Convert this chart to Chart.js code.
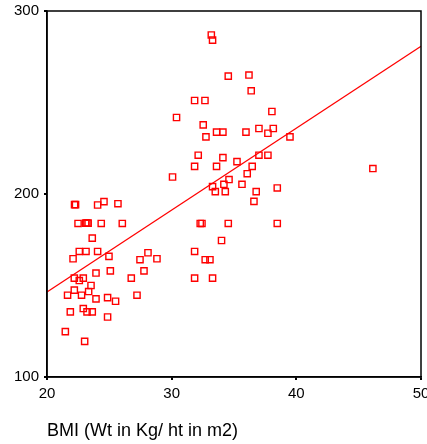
<!DOCTYPE html>
<html>
<head>
<meta charset="utf-8">
<script src="https://cdn.jsdelivr.net/npm/chart.js@4/dist/chart.umd.min.js"></script>
<style>
html,body{margin:0;padding:0;background:#fff;}
#wrap{width:427px;height:444px;position:relative;}
</style>
</head>
<body>
<div id="wrap"><canvas id="c" width="427" height="444"></canvas></div>
<script>
// BMI values (x) and measured values (y) for each subject
const bmiValues = [
  33.18,33.28,31.84,32.67,30.39,32.53,32.75,33.60,32.13,31.84,33.60,30.07,33.28,33.50,
  34.54,36.20,36.38,38.04,37.00,38.15,37.72,34.11,35.96,39.49,34.11,37.00,37.72,35.24,
  36.46,36.06,46.14,34.60,34.19,35.64,34.30,36.78,38.47,36.60,32.29,32.43,34.54,38.47,
  34.00,32.69,33.07,33.28,31.84,31.84,
  22.21,22.29,24.06,24.57,25.69,22.49,23.10,23.20,23.30,24.35,26.04,23.63,22.59,23.13,
  24.06,22.09,24.97,27.46,28.10,28.82,22.19,22.59,22.91,23.93,25.08,26.76,27.78,23.53,
  22.19,23.34,21.65,22.77,23.93,24.86,25.50,27.22,22.91,21.87,23.21,23.63,24.86,21.47,23.02
];
const yValues = [
  286.9,284.1,251.1,251.1,241.8,237.8,231.2,233.8,221.2,215.1,215.1,209.3,204.0,201.3,
  264.4,265.0,256.4,245.1,235.8,235.8,233.2,233.8,233.8,231.2,219.9,221.2,221.2,217.7,
  215.1,211.1,213.9,207.9,205.3,205.3,201.3,201.3,203.3,196.0,183.9,183.9,183.9,183.9,
  174.6,164.1,164.1,154.0,168.6,154.0,
  194.2,194.2,194.0,195.8,194.7,183.9,184.1,184.1,184.1,183.9,183.9,175.9,168.6,168.6,
  168.6,164.6,165.9,164.1,167.9,164.6,154.0,152.7,154.0,156.8,158.0,154.0,158.0,150.0,
  147.5,146.7,144.7,144.7,142.7,143.4,141.4,144.7,137.4,135.6,135.6,135.6,132.8,124.8,119.5
];
// Fit line end points
const fitX = [20, 50];
const fitY = [146.5, 280.7];
// Axis settings
const xTicks = [20, 30, 40, 50];
const yTicks = [100, 200, 300];
const xTitle = 'BMI (Wt in Kg/ ht in m2)';

const scatterData = bmiValues.map((x, i) => ({x: x, y: yValues[i]}));
const lineData = fitX.map((x, i) => ({x: x, y: fitY[i]}));

const framePlugin = {
  id: 'frame',
  afterDraw(chart) {
    const a = chart.chartArea, ctx = chart.ctx;
    ctx.save();
    ctx.strokeStyle = '#000';
    ctx.lineWidth = 1.5;
    ctx.strokeRect(a.left, a.top, a.right - a.left, a.bottom - a.top);
    ctx.restore();
  }
};

const tickFont = {family: "'Liberation Sans', Arial, sans-serif", size: 15};

new Chart(document.getElementById('c'), {
  type: 'scatter',
  data: {
    datasets: [
      {
        data: scatterData,
        pointStyle: 'rect',
        pointRadius: 4.4,
        pointHoverRadius: 4.4,
        borderColor: '#ff0000',
        backgroundColor: 'rgba(0,0,0,0)',
        pointBorderWidth: 1.4,
        showLine: false
      },
      {
        type: 'line',
        data: lineData,
        borderColor: '#ff0000',
        borderWidth: 1.2,
        pointRadius: 0,
        fill: false,
        tension: 0
      }
    ]
  },
  options: {
    responsive: false,
    animation: false,
    events: [],
    layout: {padding: {top: 11, right: 6, left: 0, bottom: 0}},
    plugins: {legend: {display: false}, tooltip: {enabled: false}},
    scales: {
      x: {
        type: 'linear',
        min: 20, max: 50,
        afterBuildTicks: s => { s.ticks = xTicks.map(v => ({value: v})); },
        afterFit: s => { s.height = 67; s.paddingLeft = 0; s.paddingRight = 0; },
        ticks: {color: '#000', font: tickFont, padding: 5, maxRotation: 0},
        grid: {drawOnChartArea: false, drawTicks: true, tickLength: 3, color: '#000', lineWidth: 2},
        border: {display: true, color: '#000', width: 1.5},
        title: {
          display: true, text: xTitle, align: 'start', color: '#000',
          font: {family: "'Liberation Sans', Arial, sans-serif", size: 18},
          padding: {top: 0, bottom: 2}
        }
      },
      y: {
        type: 'linear',
        min: 100, max: 300,
        afterBuildTicks: s => { s.ticks = yTicks.map(v => ({value: v})); },
        afterFit: s => { s.width = 47; s.paddingTop = 0; s.paddingBottom = 0; },
        ticks: {color: '#000', font: tickFont, padding: 5},
        grid: {drawOnChartArea: false, drawTicks: true, tickLength: 3, color: '#000', lineWidth: 2},
        border: {display: true, color: '#000', width: 1.5}
      }
    }
  },
  plugins: [framePlugin]
});
</script>
</body>
</html>
